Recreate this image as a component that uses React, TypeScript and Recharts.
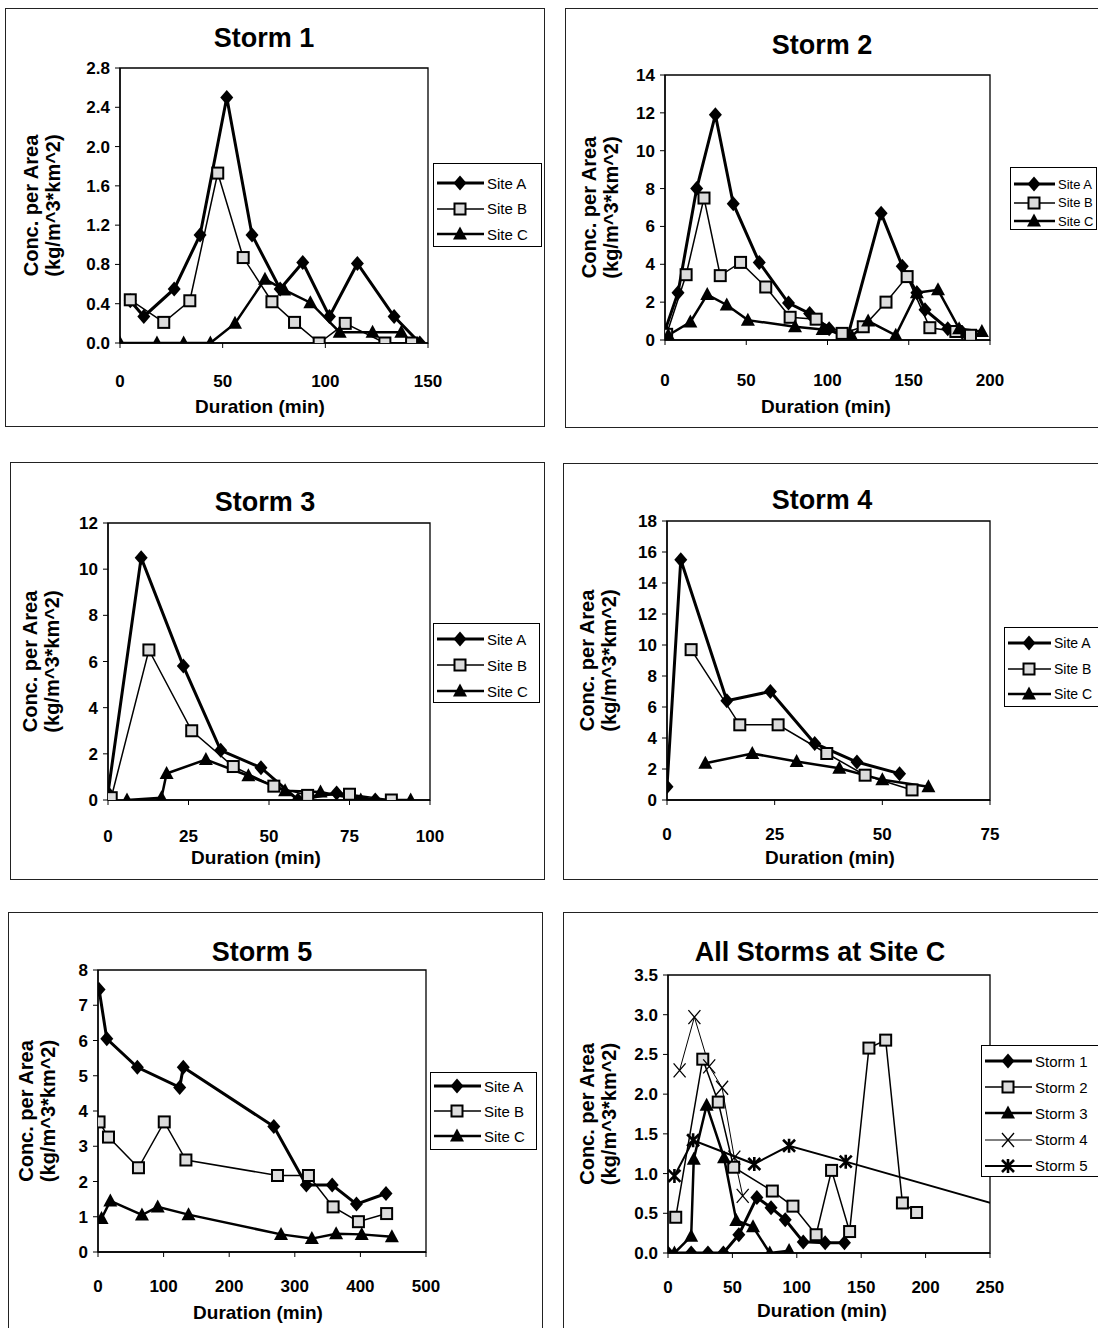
import { LineChart, Line, XAxis, YAxis, ReferenceArea } from 'recharts';

// [duration (min), conc. per area]
const storm1SiteA = [[5, 0.43], [11.6, 0.27], [26.4, 0.55], [39, 1.1], [52, 2.5], [64.3, 1.1], [78, 0.55], [89, 0.82], [102, 0.27], [115.6, 0.81], [133.5, 0.27], [146, 0.0]];
const storm1SiteB = [[5, 0.44], [21.3, 0.21], [34, 0.43], [47.6, 1.73], [60, 0.87], [74, 0.42], [85, 0.21], [97, 0.0], [109.7, 0.2], [129, 0.0], [142, 0.0]];
const storm1SiteC = [[0, 0], [18, 0], [31, 0], [44, 0], [56, 0.2], [70.6, 0.65], [80, 0.54], [92.7, 0.41], [107, 0.11], [123, 0.11], [137, 0.11]];

const storm2SiteA = [[0, 0.5], [8, 2.5], [19.5, 8.0], [31, 11.9], [42, 7.2], [58, 4.1], [76, 1.95], [89, 1.4], [101, 0.6], [112, 0.05], [133, 6.7], [146, 3.9], [155, 2.5], [160, 1.6], [174, 0.6], [183, 0.4]];
const storm2SiteB = [[1, 0.3], [13, 3.45], [24, 7.5], [34, 3.4], [46.5, 4.1], [62, 2.8], [77, 1.2], [93, 1.1], [109, 0.35], [122, 0.7], [136, 2.0], [149, 3.35], [163, 0.65], [179, 0.45], [188, 0.25]];
const storm2SiteC = [[2, 0.25], [15.6, 0.95], [26, 2.4], [38, 1.85], [51, 1.05], [80, 0.7], [97, 0.55], [115, 0.2], [125, 1.0], [142, 0.25], [155, 2.5], [168, 2.65], [181, 0.6], [195, 0.45]];

const storm3SiteA = [[0, 0.3], [10.3, 10.5], [23.4, 5.8], [35, 2.15], [47.5, 1.4], [59, 0.0], [71, 0.3], [83, 0.0]];
const storm3SiteB = [[1, 0.1], [12.7, 6.5], [26, 3.0], [38.9, 1.45], [51.5, 0.6], [62, 0.2], [75, 0.25], [88, 0.0]];
const storm3SiteC = [[5.9, 0], [16.6, 0.1], [18.2, 1.15], [30.4, 1.75], [43.6, 1.05], [55, 0.4], [66, 0.35], [78.5, 0], [94, 0]];

const storm4SiteA = [[0, 0.86], [3.2, 15.5], [13.9, 6.4], [24, 7.0], [34.3, 3.65], [44.1, 2.45], [54, 1.7]];
const storm4SiteB = [[5.6, 9.7], [16.9, 4.85], [25.8, 4.85], [37.1, 3.0], [46, 1.6], [56.9, 0.65]];
const storm4SiteC = [[8.9, 2.37], [19.8, 3.0], [30.1, 2.48], [40, 2.05], [50, 1.3], [60.7, 0.86]];

const storm5SiteA = [[1.6, 7.45], [13.4, 6.05], [60, 5.24], [124.5, 4.67], [130, 5.24], [268, 3.56], [317.6, 1.9], [357, 1.9], [394, 1.36], [439, 1.66]];
const storm5SiteB = [[1.6, 3.69], [16, 3.26], [61.7, 2.39], [101, 3.69], [134, 2.61], [273.6, 2.17], [320.8, 2.17], [358.4, 1.28], [397, 0.86], [440, 1.09]];
const storm5SiteC = [[5.4, 0.95], [18.8, 1.45], [67, 1.05], [91, 1.28], [138, 1.06], [279, 0.5], [326, 0.38], [363, 0.52], [402, 0.5], [448, 0.43]];

const siteCStorm1 = [[0, 0], [18, 0], [31, 0], [43, 0], [55, 0.23], [69, 0.7], [80, 0.57], [91, 0.42], [105, 0.14], [122, 0.13], [137, 0.13]];
const siteCStorm2 = [[6, 0.45], [27, 2.44], [39, 1.9], [51, 1.08], [81, 0.78], [97, 0.59], [115, 0.23], [127, 1.04], [141, 0.27], [156, 2.58], [169, 2.68], [182, 0.63], [193, 0.51]];
const siteCStorm3 = [[5, 0], [18, 0.21], [20, 1.18], [30, 1.86], [43.5, 1.2], [53, 0.41], [66, 0.33], [79, 0], [94, 0.03]];
const siteCStorm4 = [[9, 2.3], [20.5, 2.97], [32, 2.35], [42, 2.08], [51.5, 1.2], [58, 0.72]];
const siteCStorm5 = [[5, 0.97], [19.5, 1.42], [67, 1.12], [94, 1.35], [138, 1.15], [279, 0.5], [326, 0.4], [363, 0.52], [402, 0.52], [448, 0.45]];

const ticks28 = [0, 0.4, 0.8, 1.2, 1.6, 2.0, 2.4, 2.8];
const ticks14 = [0, 2, 4, 6, 8, 10, 12, 14];
const ticks12 = [0, 2, 4, 6, 8, 10, 12];
const ticks18 = [0, 2, 4, 6, 8, 10, 12, 14, 16, 18];
const ticks8 = [0, 1, 2, 3, 4, 5, 6, 7, 8];
const ticks35 = [0, 0.5, 1.0, 1.5, 2.0, 2.5, 3.0, 3.5];
const xTicks150 = [0, 50, 100, 150];
const xTicks200 = [0, 50, 100, 150, 200];
const xTicks100 = [0, 25, 50, 75, 100];
const xTicks75 = [0, 25, 50, 75];
const xTicks500 = [0, 100, 200, 300, 400, 500];
const xTicks250 = [0, 50, 100, 150, 200, 250];

const FONT = '"Liberation Sans", Arial, Helvetica, sans-serif';

type MarkerKind = 'diamond' | 'square' | 'triangle' | 'cross' | 'star';

function Marker({ kind, cx, cy }: { kind: MarkerKind; cx: number; cy: number }) {
  if (kind === 'diamond')
    return <path d={`M${cx},${cy - 7.5}L${cx + 6.5},${cy}L${cx},${cy + 7.5}L${cx - 6.5},${cy}Z`} fill="#000" />;
  if (kind === 'square')
    return <rect x={cx - 5.5} y={cy - 5.5} width={11} height={11} fill="#dcdcdc" stroke="#000" strokeWidth={2} />;
  if (kind === 'triangle')
    return <path d={`M${cx},${cy - 7.5}L${cx + 7},${cy + 5.5}L${cx - 7},${cy + 5.5}Z`} fill="#000" />;
  if (kind === 'cross')
    return (
      <path d={`M${cx - 6},${cy - 7}L${cx + 6},${cy + 7}M${cx + 6},${cy - 7}L${cx - 6},${cy + 7}`} stroke="#000" strokeWidth={1.3} fill="none" />
    );
  return (
    <path
      d={`M${cx - 6},${cy - 6}L${cx + 6},${cy + 6}M${cx + 6},${cy - 6}L${cx - 6},${cy + 6}M${cx},${cy - 7}L${cx},${cy + 7}`}
      stroke="#000"
      strokeWidth={2.6}
      fill="none"
    />
  );
}

interface Series { name: string; pairs: number[][]; marker: MarkerKind; width: number }
interface Rect { left: number; top: number; right: number; bottom: number }
interface PanelCfg {
  title: string;
  titleX: number;
  titleY: number;
  box: Rect;
  plot: Rect;
  xDomain: [number, number];
  xTicks: number[];
  yDomain: [number, number];
  yTicks: number[];
  yDigits: number;
  xTickMargin: number;
  xTitleX: number;
  xTitleY: number;
  yLabelX: [number, number];
  legend: Rect & { firstRow: number; rowGap: number; fontSize: number; iconW: number };
  series: Series[];
}

const siteA = { marker: 'diamond' as MarkerKind, width: 3 };
const siteB = { marker: 'square' as MarkerKind, width: 1.5 };
const siteC = { marker: 'triangle' as MarkerKind, width: 2.5 };

const sites = (a: number[][], b: number[][], c: number[][]): Series[] => [
  { name: 'Site A', pairs: a, ...siteA },
  { name: 'Site B', pairs: b, ...siteB },
  { name: 'Site C', pairs: c, ...siteC },
];

const panels: PanelCfg[] = [
  {
    title: 'Storm 1', titleX: 264, titleY: 38,
    box: { left: 5, top: 8, right: 545, bottom: 427 },
    plot: { left: 120, top: 68, right: 428, bottom: 343 },
    xDomain: [0, 150], xTicks: xTicks150, yDomain: [0, 2.8], yTicks: ticks28, yDigits: 1,
    xTickMargin: 27, xTitleX: 260, xTitleY: 406, yLabelX: [31, 53],
    legend: { left: 433, top: 163, right: 542, bottom: 247, firstRow: 182, rowGap: 25.5, fontSize: 15, iconW: 52 },
    series: sites(storm1SiteA, storm1SiteB, storm1SiteC),
  },
  {
    title: 'Storm 2', titleX: 822, titleY: 45,
    box: { left: 565, top: 8, right: 1106, bottom: 428 },
    plot: { left: 665, top: 75, right: 990, bottom: 340 },
    xDomain: [0, 200], xTicks: xTicks200, yDomain: [0, 14], yTicks: ticks14, yDigits: 0,
    xTickMargin: 29, xTitleX: 826, xTitleY: 406, yLabelX: [589, 611],
    legend: { left: 1010, top: 167, right: 1097, bottom: 230, firstRow: 183, rowGap: 18.5, fontSize: 13, iconW: 46 },
    series: sites(storm2SiteA, storm2SiteB, storm2SiteC),
  },
  {
    title: 'Storm 3', titleX: 265, titleY: 502,
    box: { left: 10, top: 462, right: 545, bottom: 880 },
    plot: { left: 108, top: 523, right: 430, bottom: 800 },
    xDomain: [0, 100], xTicks: xTicks100, yDomain: [0, 12], yTicks: ticks12, yDigits: 0,
    xTickMargin: 25, xTitleX: 256, xTitleY: 857, yLabelX: [30, 52],
    legend: { left: 433, top: 623, right: 540, bottom: 703, firstRow: 638, rowGap: 26, fontSize: 15, iconW: 52 },
    series: sites(storm3SiteA, storm3SiteB, storm3SiteC),
  },
  {
    title: 'Storm 4', titleX: 822, titleY: 500,
    box: { left: 563, top: 463, right: 1106, bottom: 880 },
    plot: { left: 667, top: 521, right: 990, bottom: 800 },
    xDomain: [0, 75], xTicks: xTicks75, yDomain: [0, 18], yTicks: ticks18, yDigits: 0,
    xTickMargin: 23, xTitleX: 830, xTitleY: 857, yLabelX: [587, 609],
    legend: { left: 1004, top: 627, right: 1106, bottom: 707, firstRow: 642, rowGap: 25.5, fontSize: 14, iconW: 48 },
    series: sites(storm4SiteA, storm4SiteB, storm4SiteC),
  },
  {
    title: 'Storm 5', titleX: 262, titleY: 952,
    box: { left: 8, top: 912, right: 543, bottom: 1340 },
    plot: { left: 98, top: 970, right: 426, bottom: 1252 },
    xDomain: [0, 500], xTicks: xTicks500, yDomain: [0, 8], yTicks: ticks8, yDigits: 0,
    xTickMargin: 23, xTitleX: 258, xTitleY: 1312, yLabelX: [26, 48],
    legend: { left: 430, top: 1072, right: 537, bottom: 1150, firstRow: 1085, rowGap: 25, fontSize: 15, iconW: 52 },
    series: sites(storm5SiteA, storm5SiteB, storm5SiteC),
  },
  {
    title: 'All Storms at Site C', titleX: 820, titleY: 952,
    box: { left: 563, top: 912, right: 1106, bottom: 1340 },
    plot: { left: 668, top: 975, right: 990, bottom: 1253 },
    xDomain: [0, 250], xTicks: xTicks250, yDomain: [0, 3.5], yTicks: ticks35, yDigits: 1,
    xTickMargin: 23, xTitleX: 822, xTitleY: 1310, yLabelX: [587, 609],
    legend: { left: 981, top: 1045, right: 1106, bottom: 1177, firstRow: 1060, rowGap: 26.2, fontSize: 15, iconW: 52 },
    series: [
      { name: 'Storm 1', pairs: siteCStorm1, marker: 'diamond', width: 3 },
      { name: 'Storm 2', pairs: siteCStorm2, marker: 'square', width: 1.5 },
      { name: 'Storm 3', pairs: siteCStorm3, marker: 'triangle', width: 2.5 },
      { name: 'Storm 4', pairs: siteCStorm4, marker: 'cross', width: 1 },
      { name: 'Storm 5', pairs: siteCStorm5, marker: 'star', width: 2 },
    ],
  },
];

const Y_W = 50;
const X_H = 70;

function Panel({ p }: { p: PanelCfg }) {
  const { box, plot, legend } = p;
  const w = box.right - box.left;
  const h = box.bottom - box.top;
  const margin = {
    top: plot.top - box.top,
    right: box.right - plot.right,
    bottom: box.bottom - plot.bottom - X_H,
    left: plot.left - box.left - Y_W,
  };
  const midY = (plot.top + plot.bottom) / 2 - box.top;
  const tick = { fontSize: 17, fontWeight: 700, fill: '#000', fontFamily: FONT };
  const iw = legend.iconW;

  return (
    <div
      style={{
        position: 'absolute', left: box.left, top: box.top, width: w, height: h,
        border: '1px solid #222', boxSizing: 'border-box', background: '#fff',
      }}
    >
      <div style={{ position: 'absolute', left: -1, top: -1 }}>
        <LineChart width={w} height={h} margin={margin}>
          <XAxis
            type="number" dataKey="t" domain={p.xDomain} ticks={p.xTicks} interval={0}
            allowDataOverflow height={X_H} tick={tick} tickSize={5} tickMargin={p.xTickMargin}
            stroke="#000" axisLine={{ stroke: '#000', strokeWidth: 1.3 }} tickLine={{ stroke: '#000' }}
          />
          <YAxis
            type="number" dataKey="c" domain={p.yDomain} ticks={p.yTicks} interval={0}
            allowDataOverflow width={Y_W} tick={tick} tickSize={5} tickMargin={5}
            tickFormatter={(v: number) => v.toFixed(p.yDigits)}
            stroke="#000" axisLine={{ stroke: '#000', strokeWidth: 1.3 }} tickLine={{ stroke: '#000' }}
          />
          <ReferenceArea
            x1={p.xDomain[0]} x2={p.xDomain[1]} y1={p.yDomain[0]} y2={p.yDomain[1]}
            fill="none" stroke="#000" strokeWidth={1.3} ifOverflow="visible"
          />
          {p.series.map((s) => (
            <Line
              key={s.name}
              data={s.pairs.map(([t, c]) => ({ t, c }))}
              dataKey="c"
              name={s.name}
              stroke="#000"
              strokeWidth={s.width}
              isAnimationActive={false}
              activeDot={false}
              dot={(d: any) => (
                <g key={`${s.name}-${d.index}`}>
                  <Marker kind={s.marker} cx={d.cx} cy={d.cy} />
                </g>
              )}
            />
          ))}
        </LineChart>
      </div>

      <svg
        width={w} height={h}
        style={{ position: 'absolute', left: -1, top: -1, pointerEvents: 'none', overflow: 'visible' }}
      >
        <text
          x={p.titleX - box.left} y={p.titleY - box.top} textAnchor="middle" dominantBaseline="central"
          fontFamily={FONT} fontWeight={700} fontSize={27} fill="#000"
        >
          {p.title}
        </text>
        <text
          x={p.xTitleX - box.left} y={p.xTitleY - box.top} textAnchor="middle" dominantBaseline="central"
          fontFamily={FONT} fontWeight={700} fontSize={19} fill="#000"
        >
          Duration (min)
        </text>
        {['Conc. per Area', '(kg/m^3*km^2)'].map((line, i) => {
          const x = p.yLabelX[i] - box.left;
          return (
            <text
              key={line} x={x} y={midY} transform={`rotate(-90 ${x} ${midY})`}
              textAnchor="middle" dominantBaseline="central"
              fontFamily={FONT} fontWeight={700} fontSize={20} fill="#000"
            >
              {line}
            </text>
          );
        })}
      </svg>

      <div
        style={{
          position: 'absolute', left: legend.left - box.left - 1, top: legend.top - box.top - 1,
          width: legend.right - legend.left, height: legend.bottom - legend.top,
          border: '1px solid #000', boxSizing: 'border-box', background: '#fff',
        }}
      >
        {p.series.map((s, i) => (
          <div
            key={s.name}
            style={{
              position: 'absolute', left: 0, top: legend.firstRow + i * legend.rowGap - legend.top - 11,
              height: 22, display: 'flex', alignItems: 'center', whiteSpace: 'nowrap',
            }}
          >
            <svg width={iw} height={22}>
              <line x1={3} y1={11} x2={iw - 2} y2={11} stroke="#000" strokeWidth={s.width} />
              <Marker kind={s.marker} cx={iw / 2} cy={11} />
            </svg>
            <span style={{ fontFamily: FONT, fontSize: legend.fontSize, color: '#000', marginLeft: 1 }}>{s.name}</span>
          </div>
        ))}
      </div>
    </div>
  );
}

export default function App() {
  return (
    <div
      style={{
        position: 'absolute', left: 0, top: 0, width: 1098, height: 1328,
        overflow: 'hidden', background: '#fff', fontFamily: FONT,
      }}
    >
      {panels.map((p) => (
        <Panel key={p.title} p={p} />
      ))}
    </div>
  );
}
